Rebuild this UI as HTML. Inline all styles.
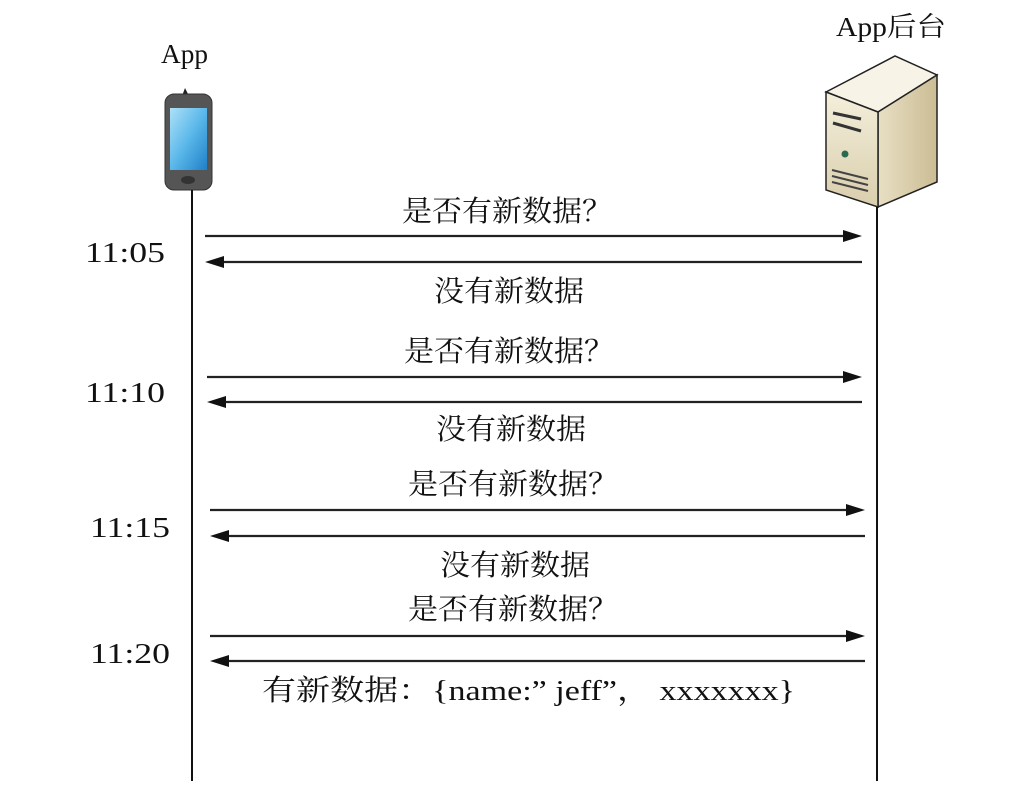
<!DOCTYPE html>
<html><head><meta charset="utf-8"><style>
body{margin:0;background:#fff;width:1013px;height:781px;overflow:hidden}
svg text{font-family:"Liberation Serif","Noto Serif CJK SC",serif;fill:#111}
</style></head><body>
<svg width="1013" height="781" viewBox="0 0 1013 781" xmlns="http://www.w3.org/2000/svg">
<defs>
<linearGradient id="scr" x1="0" y1="0" x2="1" y2="1"><stop offset="0" stop-color="#aee0f8"/><stop offset="0.5" stop-color="#5bb8ea"/><stop offset="1" stop-color="#1f7fc8"/></linearGradient>
<linearGradient id="front" x1="0" y1="0" x2="0" y2="1"><stop offset="0" stop-color="#f4efdc"/><stop offset="1" stop-color="#d9ceac"/></linearGradient>
<linearGradient id="side" x1="0" y1="0" x2="1" y2="0"><stop offset="0" stop-color="#e8dfc4"/><stop offset="1" stop-color="#cbbd94"/></linearGradient>
</defs>
<text x="161" y="63" font-size="27" textLength="47" lengthAdjust="spacingAndGlyphs">App</text>
<text x="836" y="36" font-size="27" textLength="110" lengthAdjust="spacingAndGlyphs">App后台</text>
<!-- phone -->
<path d="M182 96 l3 -8 l4 8 z" fill="#222"/>
<rect x="165" y="94" width="47" height="96" rx="9" fill="#555" stroke="#333"/>
<rect x="170" y="108" width="37" height="62" fill="url(#scr)"/>
<ellipse cx="188" cy="180" rx="7" ry="4" fill="#333"/>
<!-- server -->
<polygon points="826,92 895,56 937,75 878,112" fill="#f7f3e6" stroke="#222" stroke-width="1.5"/>
<polygon points="878,112 937,75 937,182 878,207" fill="url(#side)" stroke="#222" stroke-width="1.5"/>
<polygon points="826,92 878,112 878,207 826,190" fill="url(#front)" stroke="#222" stroke-width="1.5"/>
<path d="M833 113 l28 6 M833 123 l28 8" stroke="#333" stroke-width="3"/>
<circle cx="845" cy="154" r="3.5" fill="#2a6a50"/>
<path d="M832 170 l36 9 M832 176 l36 9 M832 182 l36 9" stroke="#444" stroke-width="2"/>
<!-- lifelines -->
<line x1="192" y1="190" x2="192" y2="781" stroke="#111" stroke-width="2"/>
<line x1="877" y1="207" x2="877" y2="781" stroke="#111" stroke-width="2"/>
<g stroke="#222" stroke-width="2.2" fill="#111">
<line x1="205" y1="236" x2="845" y2="236"/><polygon points="862,236 843,230 843,242" stroke="none"/>
<line x1="222" y1="262" x2="862" y2="262"/><polygon points="205,262 224,256 224,268" stroke="none"/>
<line x1="207" y1="377" x2="845" y2="377"/><polygon points="862,377 843,371 843,383" stroke="none"/>
<line x1="224" y1="402" x2="862" y2="402"/><polygon points="207,402 226,396 226,408" stroke="none"/>
<line x1="210" y1="510" x2="848" y2="510"/><polygon points="865,510 846,504 846,516" stroke="none"/>
<line x1="227" y1="536" x2="865" y2="536"/><polygon points="210,536 229,530 229,542" stroke="none"/>
<line x1="210" y1="636" x2="848" y2="636"/><polygon points="865,636 846,630 846,642" stroke="none"/>
<line x1="227" y1="661" x2="865" y2="661"/><polygon points="210,661 229,655 229,667" stroke="none"/>
</g>
<g font-size="29">
<text x="85" y="262" textLength="80" lengthAdjust="spacingAndGlyphs">11:05</text>
<text x="85" y="402" textLength="80" lengthAdjust="spacingAndGlyphs">11:10</text>
<text x="90" y="537" textLength="80" lengthAdjust="spacingAndGlyphs">11:15</text>
<text x="90" y="663" textLength="80" lengthAdjust="spacingAndGlyphs">11:20</text>
</g>
<g font-size="29">
<text x="402" y="221" textLength="210" lengthAdjust="spacingAndGlyphs">是否有新数据？</text>
<text x="434" y="301" textLength="150" lengthAdjust="spacingAndGlyphs">没有新数据</text>
<text x="404" y="361" textLength="210" lengthAdjust="spacingAndGlyphs">是否有新数据？</text>
<text x="436" y="439" textLength="150" lengthAdjust="spacingAndGlyphs">没有新数据</text>
<text x="408" y="494" textLength="210" lengthAdjust="spacingAndGlyphs">是否有新数据？</text>
<text x="440" y="575" textLength="150" lengthAdjust="spacingAndGlyphs">没有新数据</text>
<text x="408" y="619" textLength="210" lengthAdjust="spacingAndGlyphs">是否有新数据？</text>
<text x="262" y="700" textLength="533" lengthAdjust="spacingAndGlyphs">有新数据：{name:” jeff”， xxxxxxx}</text>
</g>
</svg>
</body></html>
